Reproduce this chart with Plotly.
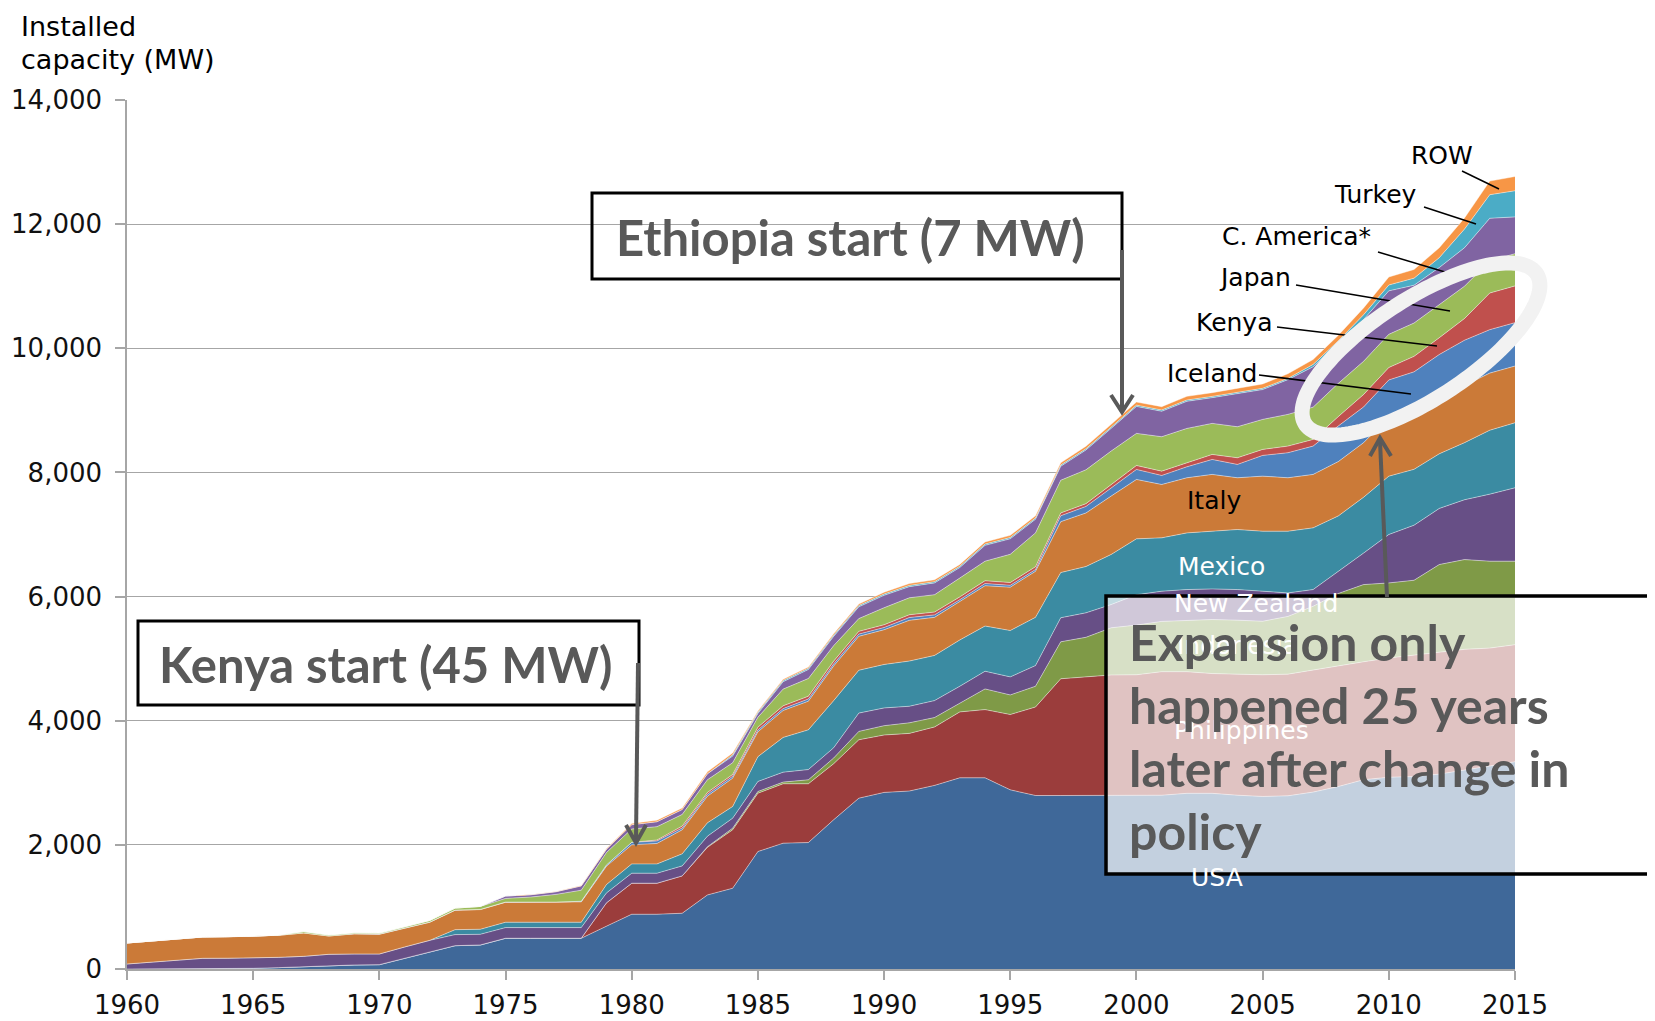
import numpy as np
import plotly.graph_objects as go

years = list(range(1960, 2016))

usa = [0, 0, 2, 11, 11, 11, 22, 38, 59, 65,
       70, 172, 280, 376, 387, 495, 495, 495, 495, 690,
       882, 882, 898, 1193, 1301, 1892, 2027, 2037, 2403, 2752,
       2845, 2867, 2958, 3080, 3080, 2886, 2795, 2795, 2795, 2795,
       2800, 2800, 2830, 2830, 2800, 2780, 2790, 2850, 2940, 3050,
       3090, 3100, 3140, 3200, 3270, 3340]
philippines = [0, 0, 0, 0, 0, 0, 0, 0, 0, 0,
               0, 0, 0, 0, 0, 0, 0, 0, 0, 376,
               500, 500, 602, 767, 941, 941, 957, 947, 903, 941,
               925, 929, 941, 1062, 1099, 1214, 1426, 1881, 1911, 1942,
               1940, 1990, 1960, 1930, 1950, 1960, 1960, 1970, 1950, 1900,
               1920, 1960, 1960, 1950, 1900, 1885]
indonesia = [0, 0, 0, 0, 0, 0, 0, 0, 0, 0,
             0, 0, 0, 0, 0, 0, 0, 0, 0, 0,
             0, 0, 0, 10, 27, 27, 27, 64, 92, 135,
             150, 170, 152, 140, 333, 315, 334, 595, 638, 760,
             800, 810, 830, 870, 870, 862, 930, 1024, 1160, 1243,
             1210, 1203, 1416, 1446, 1400, 1345]
new_zealand = [81, 113, 143, 161, 163, 166, 166, 166, 178, 177,
               172, 183, 182, 178, 172, 172, 172, 172, 172, 160,
               161, 161, 161, 170, 161, 161, 160, 165, 165, 295,
               286, 267, 273, 273, 285, 291, 333, 388, 394, 375,
               490, 486, 493, 493, 493, 484, 379, 269, 350, 507,
               780, 887, 904, 964, 1080, 1182]
mexico = [0, 0, 0, 0, 0, 0, 0, 0, 0, 0,
          0, 0, 0, 80, 81, 86, 86, 86, 86, 135,
          150, 150, 194, 215, 188, 400, 560, 640, 760, 690,
          700, 728, 728, 746, 728, 747, 777, 728, 746, 807,
          900, 860, 913, 930, 967, 967, 994, 994, 900, 900,
          940, 900, 880, 920, 1030, 1048]
italy = [338, 339, 339, 344, 347, 350, 355, 377, 295, 323,
         317, 301, 291, 312, 317, 322, 322, 322, 328, 296,
         307, 330, 387, 430, 457, 400, 434, 462, 557, 547,
         560, 656, 613, 619, 650, 698, 741, 820, 863, 941,
         957, 860, 888, 915, 834, 887, 861, 861, 875, 880,
         950, 950, 900, 920, 920, 914]
iceland = [0, 0, 0, 0, 0, 0, 0, 0, 0, 3,
           3, 3, 3, 3, 3, 3, 3, 3, 10, 20,
           40, 40, 30, 30, 30, 30, 30, 35, 35, 35,
           35, 45, 40, 30, 35, 30, 30, 95, 105, 135,
           161, 145, 177, 241, 215, 334, 403, 456, 575, 575,
           600, 620, 700, 730, 700, 699]
kenya = [0, 0, 0, 0, 0, 0, 0, 0, 0, 0,
         0, 0, 0, 0, 0, 0, 0, 0, 0, 0,
         0, 15, 30, 30, 30, 45, 45, 45, 45, 45,
         45, 45, 45, 45, 45, 45, 45, 45, 45, 45,
         64, 70, 64, 81, 107, 97, 107, 108, 150, 200,
         200, 250, 270, 350, 590, 592]
japan = [0, 0, 0, 0, 0, 0, 5, 22, 16, 16,
         16, 21, 27, 32, 48, 59, 81, 124, 178, 200,
         215, 215, 188, 204, 188, 160, 269, 285, 248, 205,
         274, 273, 280, 303, 315, 455, 545, 527, 545, 545,
         517, 554, 554, 500, 500, 483, 511, 520, 535, 535,
         535, 537, 537, 520, 520, 519]
c_america = [0, 0, 0, 0, 0, 0, 0, 0, 0, 0,
             0, 0, 0, 0, 0, 38, 37, 43, 70, 54,
             70, 80, 80, 97, 107, 60, 120, 145, 150, 190,
             200, 180, 190, 170, 255, 250, 220, 225, 320, 365,
             435, 410, 437, 415, 534, 481, 560, 650, 655, 673,
             700, 609, 593, 620, 684, 593]
turkey = [0, 0, 0, 0, 0, 0, 0, 0, 0, 0,
          0, 0, 0, 0, 0, 0, 0, 0, 0, 0,
          0, 0, 0, 0, 20, 20, 20, 20, 20, 20,
          20, 20, 20, 20, 20, 20, 20, 20, 20, 20,
          20, 20, 20, 20, 20, 20, 20, 38, 30, 77,
          94, 114, 160, 300, 380, 420]
row = [0, 0, 0, 0, 0, 0, 0, 0, 0, 0,
       0, 0, 0, 0, 0, 0, 3, 5, 8, 10,
       20, 25, 25, 30, 30, 20, 20, 20, 25, 25,
       30, 30, 30, 30, 35, 35, 35, 35, 40, 45,
       50, 55, 60, 60, 65, 70, 75, 80, 90, 110,
       130, 140, 160, 180, 220, 231]

series_names = ["USA", "Philippines", "Indonesia", "New Zealand", "Mexico", "Italy",
                "Iceland", "Kenya", "Japan", "C. America*", "Turkey", "ROW"]
series_values = [usa, philippines, indonesia, new_zealand, mexico, italy,
                 iceland, kenya, japan, c_america, turkey, row]
series_colors = ["#3F6899", "#9B3D3C", "#7F9A47", "#674F86", "#3B8BA2", "#CB7A38",
                 "#4F81BD", "#C0504D", "#9BBB59", "#8064A2", "#4BACC6", "#F79646"]

x_ticks = [1960, 1965, 1970, 1975, 1980, 1985, 1990, 1995, 2000, 2005, 2010, 2015]
y_ticks = [0, 2000, 4000, 6000, 8000, 10000, 12000, 14000]

# page has an 8px body margin; figure is sized so the page is exactly 1655x1021
OFF = 8
W, H = 1655 - 2 * OFF, 1021 - OFF
PL, PR, PT, PB = 127, 1515, 100, 969   # plot area in page pixels


def px(x):
    return (x - PL) / (PR - PL)


def py(y):
    return (PB - y) / (PB - PT)


fig = go.Figure()
for name, vals, col in zip(series_names, series_values, series_colors):
    fig.add_trace(go.Scatter(
        x=years, y=vals, name=name, stackgroup="one", mode="lines",
        line=dict(width=0.8, color="rgba(255,255,255,0.55)"),
        fillcolor=col, hoverinfo="skip"))

AX = "DejaVu Sans"
GRID = "#A6A6A6"
fig.update_layout(
    width=W, height=H,
    margin=dict(l=PL - OFF, r=W - (PR - OFF), t=PT - OFF, b=H - (PB - OFF)),
    paper_bgcolor="white", plot_bgcolor="white", showlegend=False,
    xaxis=dict(range=[1960, 2015], tickvals=x_ticks, ticks="outside", ticklen=9,
               tickwidth=1.5, tickcolor=GRID, showline=True, linecolor=GRID,
               linewidth=1.5, showgrid=False, zeroline=False,
               tickfont=dict(family=AX, size=26, color="#111111"),
               ticklabelstandoff=3, automargin=False),
    yaxis=dict(range=[0, 14000], tickvals=y_ticks, tickformat=",", ticks="outside",
               ticklen=10, tickwidth=1.5, tickcolor=GRID, showline=True,
               linecolor=GRID, linewidth=1.5, showgrid=True, gridcolor=GRID,
               gridwidth=1.3, zeroline=False,
               tickfont=dict(family=AX, size=26, color="#111111"),
               ticklabelstandoff=8, automargin=False),
)

shapes = []


def seg(x0, y0, x1, y1, color, width):
    shapes.append(dict(type="line", xref="paper", yref="paper", x0=px(x0), y0=py(y0),
                       x1=px(x1), y1=py(y1), line=dict(color=color, width=width)))


def polyline(pts, color, width, closed=False, fill=None):
    d = "M " + " L ".join(f"{px(a):.5f},{py(b):.5f}" for a, b in pts)
    if closed:
        d += " Z"
    shapes.append(dict(type="path", xref="paper", yref="paper", path=d,
                       line=dict(color=color, width=width),
                       fillcolor=fill if fill else "rgba(0,0,0,0)"))


def rect(x0, y0, x1, y1, lw, fill):
    shapes.append(dict(type="rect", xref="paper", yref="paper", x0=px(x0), y0=py(y1),
                       x1=px(x1), y1=py(y0), line=dict(color="black", width=lw),
                       fillcolor=fill))


# leader lines for labels
leaders = [(1462, 171, 1499, 189), (1424, 207, 1476, 224), (1378, 252, 1445, 272),
           (1296, 285, 1450, 311), (1277, 327, 1437, 346), (1259, 375, 1411, 394)]
for l in leaders:
    seg(*l, "black", 1.5)

# highlight ellipse ring
cx, cy, a, b, th = 1421, 349, 138, 50, np.deg2rad(33)
t = np.linspace(0, 2 * np.pi, 160)
ux, uy = np.cos(th), -np.sin(th)
vx, vy = np.sin(th), np.cos(th)
ring = [(cx + a * np.cos(s) * ux + b * np.sin(s) * vx,
         cy + a * np.cos(s) * uy + b * np.sin(s) * vy) for s in t]
polyline(ring, "#F2F2F2", 15, closed=True)

# boxes
rect(592, 193, 1122, 279, 3, "rgba(0,0,0,0)")
rect(138, 621, 639, 705, 3, "rgba(0,0,0,0)")
rect(1106, 596, 1700, 874, 3.5, "rgba(255,255,255,0.69)")

# arrows
AC = "#595959"
seg(1122, 250, 1122, 410, AC, 4)
polyline([(1111, 395), (1122, 412), (1133, 395)], AC, 4)
seg(638, 663, 636, 840, AC, 4)
polyline([(626, 825), (636, 843), (646, 825)], AC, 4)
seg(1387, 597, 1380, 441, AC, 4)
polyline([(1370, 456), (1380, 438), (1391, 456)], AC, 4)

fig.update_layout(shapes=shapes)

ann = []


def text(x, y, s, size, color="black", family=AX, xanchor="center", bold=False):
    if bold:
        s = "<b>" + s + "</b>"
    ann.append(dict(xref="paper", yref="paper", x=px(x), y=py(y), text=s,
                    showarrow=False, xanchor=xanchor, yanchor="middle", align="left",
                    font=dict(family=family, size=size, color=color)))


LS = 25
text(1214, 500, "Italy", LS)
text(1221, 566, "Mexico", LS, "white")
text(1256, 603, "New Zealand", LS, "white")
text(1237, 645, "Indonesia", LS, "white")
text(1241, 730, "Philippines", LS, "white")
text(1217, 877, "USA", LS, "white")

text(1475, 156, "ROW", LS, xanchor="right")
text(1419, 194, "Turkey", LS, xanchor="right")
text(1373, 237, "C. America*", LS, xanchor="right")
text(1293, 277, "Japan", LS, xanchor="right")
text(1275, 322, "Kenya", LS, xanchor="right")
text(1259, 373, "Iceland", LS, xanchor="right")

text(19, 27, "Installed", 27, xanchor="left")
text(19, 59, "capacity (MW)", 27, xanchor="left")

BF = "Lato"
text(850, 237, "Ethiopia start (7 MW)", 49, AC, BF, bold=True)
text(385, 664, "Kenya start (45 MW)", 49, AC, BF, bold=True)
exp_lines = ["Expansion only", "happened 25 years", "later after change in", "policy"]
exp_y = [642, 705, 768, 831]
for s, yy in zip(exp_lines, exp_y):
    text(1127, yy, s, 50, AC, BF, xanchor="left", bold=True)

fig.update_layout(annotations=ann)

fig.write_html("out.html")
